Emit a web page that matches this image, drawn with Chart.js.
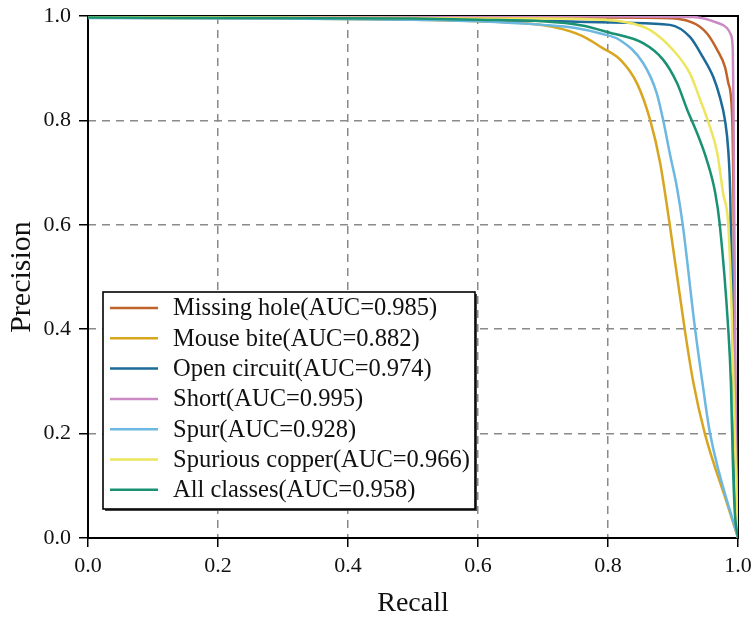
<!DOCTYPE html>
<html>
<head>
<meta charset="utf-8">
<script src="https://cdn.jsdelivr.net/npm/chart.js@4"></script>
<style>
  html, body { margin: 0; padding: 0; background: #fff; }
  #wrap { width: 756px; height: 624px; }
</style>
</head>
<body>
<div id="wrap"><canvas id="prChart" width="756" height="624"></canvas></div>
<script>
// values
const classNames = [
    'Missing hole(AUC=0.985)',
    'Mouse bite(AUC=0.882)',
    'Open circuit(AUC=0.974)',
    'Short(AUC=0.995)',
    'Spur(AUC=0.928)',
    'Spurious copper(AUC=0.966)',
    'All classes(AUC=0.958)',
];
const classColors = ['#c0632a', '#d8a520', '#1b6a99', '#cc8ac4', '#6cb8e0', '#ede55e', '#1a9173'];

const recallMissingHole = [0, 0.6, 0.88, 0.931, 0.952, 0.968, 0.98, 0.985, 0.991, 0.993, 0.996, 1.0];
const precisionMissingHole = [0.999, 0.998, 0.996, 0.987, 0.967, 0.935, 0.902, 0.872, 0.807, 0.661, 0.2, 0.0];

const recallMouseBite = [0, 0.3, 0.5, 0.6, 0.68, 0.72, 0.76, 0.79, 0.82, 0.845, 0.865, 0.88, 0.895, 0.918, 0.931, 0.949, 0.983, 1.0];
const precisionMouseBite = [0.997, 0.995, 0.993, 0.99, 0.985, 0.978, 0.962, 0.94, 0.915, 0.87, 0.80, 0.72, 0.60, 0.40, 0.30, 0.20, 0.067, 0.0];

const recallOpenCircuit = [0, 0.3, 0.6, 0.726, 0.829, 0.895, 0.926, 0.946, 0.962, 0.972, 0.98, 0.985, 0.988, 0.991, 0.995, 1.0];
const precisionOpenCircuit = [0.997, 0.996, 0.993, 0.99, 0.987, 0.983, 0.96, 0.921, 0.883, 0.845, 0.80, 0.743, 0.661, 0.45, 0.15, 0.0];

const recallShort = [0, 0.6, 0.931, 0.968, 0.983, 0.989, 0.992, 0.993, 0.994, 0.997, 1.0];
const precisionShort = [1.0, 1.0, 0.998, 0.987, 0.977, 0.964, 0.935, 0.839, 0.661, 0.2, 0.0];

const recallSpur = [0, 0.3, 0.5, 0.6, 0.7, 0.75, 0.79, 0.818, 0.854, 0.875, 0.885, 0.895, 0.906, 0.915, 0.934, 0.945, 0.957, 1.0];
const precisionSpur = [0.996, 0.995, 0.993, 0.99, 0.983, 0.977, 0.966, 0.954, 0.91, 0.852, 0.80, 0.737, 0.672, 0.60, 0.40, 0.30, 0.20, 0.0];

const recallSpuriousCopper = [0, 0.3, 0.5, 0.6, 0.7, 0.803, 0.84, 0.865, 0.9, 0.926, 0.942, 0.957, 0.968, 0.977, 0.985, 0.99, 0.995, 1.0];
const precisionSpuriousCopper = [0.998, 0.997, 0.996, 0.995, 0.995, 0.992, 0.985, 0.973, 0.935, 0.89, 0.839, 0.787, 0.738, 0.661, 0.60, 0.45, 0.2, 0.0];

const recallAllClasses = [0, 0.3, 0.5, 0.6, 0.7, 0.76, 0.8, 0.854, 0.885, 0.906, 0.922, 0.937, 0.952, 0.965, 0.972, 0.985, 0.989, 0.992, 0.995, 1.0];
const precisionAllClasses = [0.997, 0.996, 0.995, 0.993, 0.99, 0.982, 0.969, 0.948, 0.916, 0.872, 0.82, 0.776, 0.724, 0.661, 0.60, 0.40, 0.30, 0.15, 0.05, 0.0];

const recallSeries = [recallMissingHole, recallMouseBite, recallOpenCircuit, recallShort, recallSpur, recallSpuriousCopper, recallAllClasses];
const precisionSeries = [precisionMissingHole, precisionMouseBite, precisionOpenCircuit, precisionShort, precisionSpur, precisionSpuriousCopper, precisionAllClasses];

const SERIF = '"Liberation Serif", "Times New Roman", serif';
const GRID_COLOR = '#8a8a8a';

const isEdge = (value) => Math.abs(value) < 1e-9 || Math.abs(value - 1) < 1e-9;

// black frame round the plot, drawn under the curves
const plotFrame = {
    id: 'plotFrame',
    beforeDatasetsDraw(chart) {
        const { ctx, chartArea: a } = chart;
        ctx.save();
        ctx.strokeStyle = '#000';
        ctx.lineWidth = 2;
        ctx.strokeRect(a.left, a.top, a.right - a.left, a.bottom - a.top);
        ctx.restore();
    },
};

// matplotlib-like legend box inside the plot
const boxLegend = {
    id: 'boxLegend',
    afterDraw(chart, _args, opts) {
        const { ctx } = chart;
        const { x, y, width, height, rowHeight, firstRow } = opts;
        ctx.save();
        ctx.fillStyle = '#444';
        ctx.fillRect(x + 2, y + 2, width, height);
        ctx.fillStyle = '#fff';
        ctx.fillRect(x, y, width, height);
        ctx.strokeStyle = '#000';
        ctx.lineWidth = 1.6;
        ctx.strokeRect(x, y, width, height);

        ctx.font = `24.5px ${SERIF}`;
        ctx.textBaseline = 'middle';
        ctx.textAlign = 'left';
        chart.data.datasets.forEach((ds, i) => {
            const cy = y + firstRow + i * rowHeight;
            ctx.strokeStyle = ds.borderColor;
            ctx.lineWidth = 2.5;
            ctx.beginPath();
            ctx.moveTo(x + 7, cy);
            ctx.lineTo(x + 55, cy);
            ctx.stroke();
            ctx.fillStyle = '#111';
            ctx.fillText(ds.label, x + 70, cy + 1);
        });
        ctx.restore();
    },
};

const datasets = classNames.map((name, i) => ({
    label: name,
    data: recallSeries[i].map((r, j) => ({ x: r, y: precisionSeries[i][j] })),
    showLine: true,
    borderColor: classColors[i],
    backgroundColor: classColors[i],
    borderWidth: 2.5,
    pointRadius: 0,
    pointHoverRadius: 0,
    cubicInterpolationMode: 'monotone',
    fill: false,
    order: classNames.length - i,
}));

const axisCommon = (title, isY) => ({
    type: 'linear',
    min: 0,
    max: 1,
    ticks: {
        stepSize: 0.2,
        color: '#111',
        padding: isY ? 8 : 6,
        font: { family: SERIF, size: 22 },
        callback: (v) => Number(v).toFixed(1),
    },
    grid: {
        color: (c) => (c.tick && isEdge(c.tick.value) ? 'rgba(0,0,0,0)' : GRID_COLOR),
        lineWidth: 1.5,
        drawTicks: true,
        tickLength: 9,
        tickColor: '#000',
        tickWidth: 1.5,
        tickBorderDash: [],
    },
    border: { display: false, dash: [8, 6] },
    title: {
        display: true,
        text: title,
        color: '#111',
        font: { family: SERIF, size: isY ? 30 : 28 },
        padding: isY ? { top: 4, bottom: 0 } : { top: 0, bottom: 4 },
    },
    afterFit: (scale) => {
        // fixed plot box; layout padding alone decides the margins
        if (isY) {
            scale.width = 88;
            scale.paddingTop = 0;
            scale.paddingBottom = 0;
        } else {
            scale.height = 86;
            scale.paddingLeft = 0;
            scale.paddingRight = 0;
        }
    },
});

new Chart(document.getElementById('prChart'), {
    type: 'scatter',
    data: { datasets },
    plugins: [plotFrame, boxLegend],
    options: {
        responsive: false,
        animation: false,
        devicePixelRatio: 1,
        layout: { padding: { top: 16, right: 18, bottom: 0, left: 0 } },
        plugins: {
            legend: { display: false },
            tooltip: { enabled: false },
            boxLegend: { x: 103, y: 292, width: 372, height: 217, rowHeight: 30.3, firstRow: 16 },
        },
        scales: {
            x: { ...axisCommon('Recall', false), position: 'bottom' },
            y: { ...axisCommon('Precision', true), position: 'left' },
        },
    },
});
</script>
</body>
</html>
